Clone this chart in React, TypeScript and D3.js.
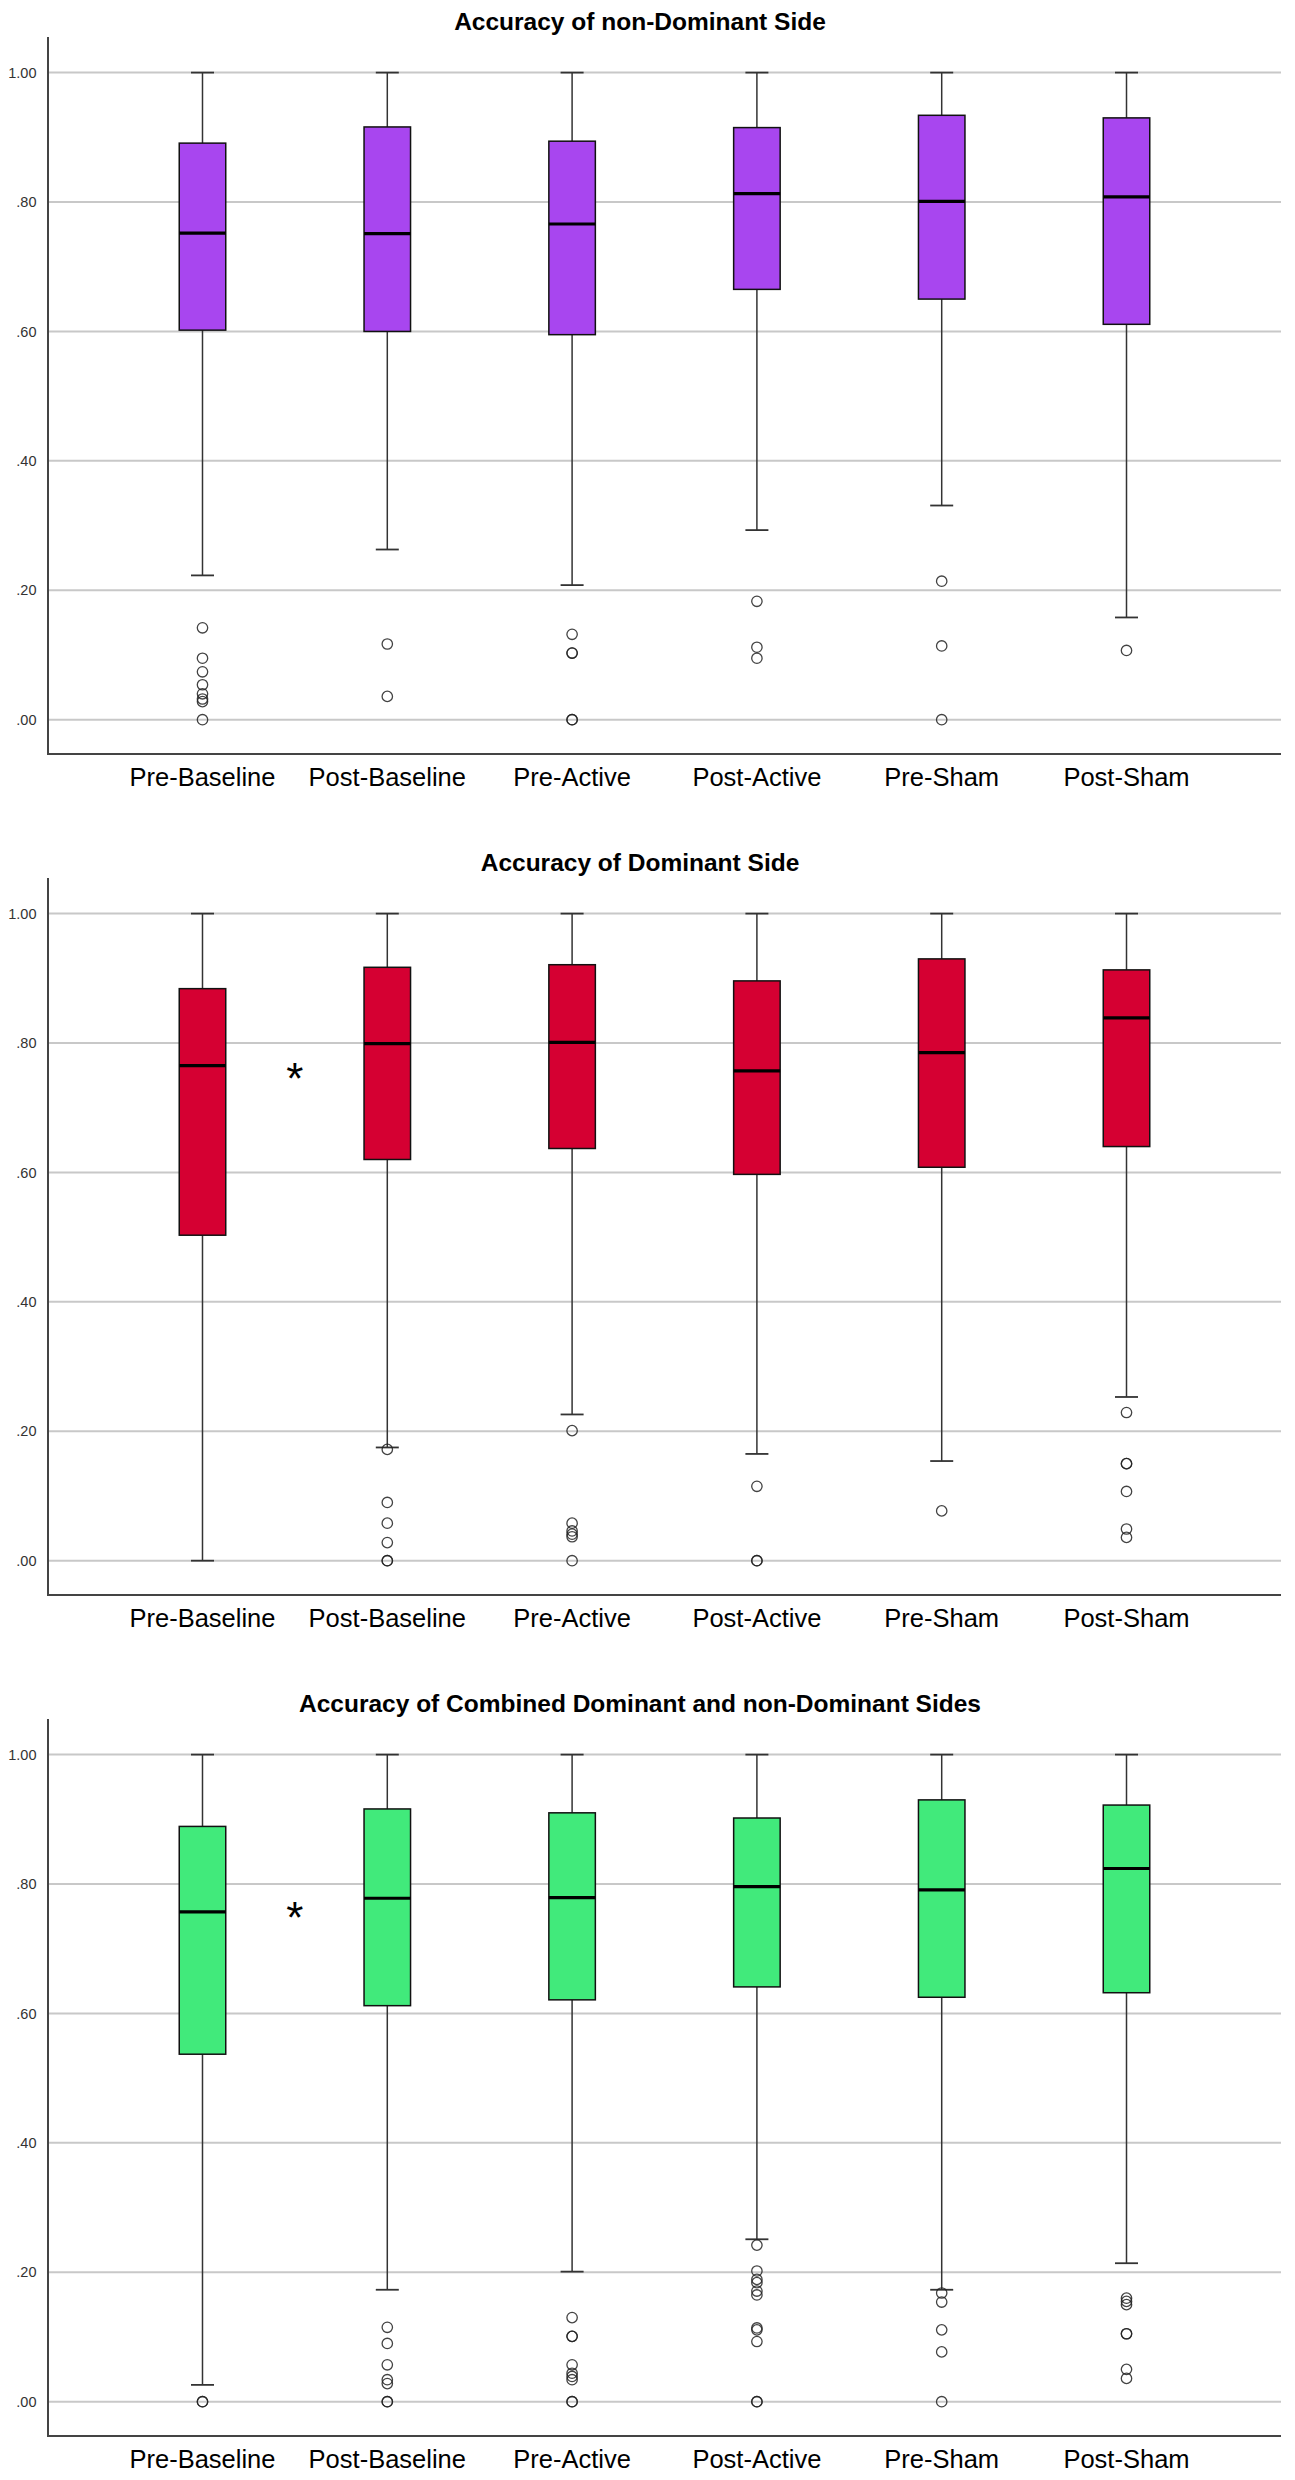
import { useEffect } from "react";
import * as d3 from "d3";

const categories = ["Pre-Baseline", "Post-Baseline", "Pre-Active", "Post-Active", "Pre-Sham", "Post-Sham"];
const yTicks = [0, 0.2, 0.4, 0.6, 0.8, 1.0];

// Accuracy of non-Dominant Side
const nonDomQ1 = [0.602, 0.6, 0.595, 0.665, 0.65, 0.611];
const nonDomMedian = [0.752, 0.751, 0.766, 0.813, 0.801, 0.808];
const nonDomQ3 = [0.891, 0.916, 0.894, 0.915, 0.934, 0.93];
const nonDomLow = [0.223, 0.263, 0.208, 0.293, 0.331, 0.158];
const nonDomHigh = [1, 1, 1, 1, 1, 1];
const nonDomOutliers = [
  [0.142, 0.095, 0.074, 0.054, 0.04, 0.032, 0.028, 0],
  [0.117, 0.036],
  [0.132, 0.103, 0.103, 0, 0],
  [0.183, 0.112, 0.095],
  [0.214, 0.114, 0],
  [0.107],
];

// Accuracy of Dominant Side
const domQ1 = [0.503, 0.62, 0.637, 0.597, 0.608, 0.64];
const domMedian = [0.765, 0.799, 0.801, 0.757, 0.785, 0.839];
const domQ3 = [0.884, 0.917, 0.921, 0.896, 0.93, 0.913];
const domLow = [0, 0.175, 0.226, 0.165, 0.154, 0.253];
const domHigh = [1, 1, 1, 1, 1, 1];
const domOutliers = [
  [],
  [0.172, 0.09, 0.058, 0.028, 0, 0],
  [0.201, 0.058, 0.046, 0.041, 0.037, 0],
  [0.115, 0, 0],
  [0.077],
  [0.229, 0.15, 0.15, 0.107, 0.049, 0.036],
];

// Accuracy of Combined Dominant and non-Dominant Sides
const combQ1 = [0.537, 0.612, 0.621, 0.641, 0.625, 0.632];
const combMedian = [0.757, 0.778, 0.779, 0.796, 0.791, 0.824];
const combQ3 = [0.889, 0.916, 0.91, 0.902, 0.93, 0.922];
const combLow = [0.026, 0.173, 0.201, 0.251, 0.173, 0.214];
const combHigh = [1, 1, 1, 1, 1, 1];
const combOutliers = [
  [0, 0],
  [0.115, 0.09, 0.057, 0.034, 0.028, 0, 0],
  [0.13, 0.101, 0.101, 0.057, 0.044, 0.039, 0.034, 0, 0],
  [0.242, 0.202, 0.189, 0.184, 0.171, 0.165, 0.114, 0.111, 0.093, 0, 0],
  [0.168, 0.154, 0.111, 0.077, 0],
  [0.16, 0.155, 0.15, 0.105, 0.105, 0.05, 0.036],
];

const titles = [
  "Accuracy of non-Dominant Side",
  "Accuracy of Dominant Side",
  "Accuracy of Combined Dominant and non-Dominant Sides",
];
const fills = ["#a846ef", "#d50032", "#41ea7b"];
// significance mark between Pre-Baseline and Post-Baseline (null = none)
const starValue = [null, 0.758, 0.762];

const panels = [
  { q1: nonDomQ1, med: nonDomMedian, q3: nonDomQ3, lo: nonDomLow, hi: nonDomHigh, out: nonDomOutliers },
  { q1: domQ1, med: domMedian, q3: domQ3, lo: domLow, hi: domHigh, out: domOutliers },
  { q1: combQ1, med: combMedian, q3: combQ3, lo: combLow, hi: combHigh, out: combOutliers },
];

const W = 1295;
const H = 2480;
const plotLeft = 48;
const plotRight = 1281;
const firstTop = 37;
const panelStep = 841;
const plotHeight = 717;
const boxW = 46.5;
const capW = 23;
const font = "Arial, 'Liberation Sans', sans-serif";

const fmt = (v: number) => (v === 1 ? "1.00" : d3.format(".2f")(v).replace(/^0/, ""));

function Panel({ index }: { index: number }) {
  const p = panels[index];
  const top = firstTop + index * panelStep;
  const bottom = top + plotHeight;
  const x = d3.scalePoint<string>().domain(categories).range([plotLeft, plotRight]).padding(0.836);
  const y = d3.scaleLinear().domain([-0.053, 1.055]).range([bottom, top]);
  const star = starValue[index];

  return (
    <g>
      <text x={640} y={top - 7.5} textAnchor="middle" fontFamily={font} fontWeight="bold" fontSize={24.5} fill="#000">
        {titles[index]}
      </text>
      {yTicks.map((t) => (
        <g key={t}>
          <line x1={plotLeft} x2={plotRight} y1={y(t)} y2={y(t)} stroke="#c8c8c8" strokeWidth={2} />
          <text x={36.5} y={y(t)} dy="0.35em" textAnchor="end" fontFamily={font} fontSize={14.5} fill="#333">
            {fmt(t)}
          </text>
        </g>
      ))}
      {categories.map((c, i) => {
        const cx = x(c)!;
        return (
          <g key={c}>
            <line x1={cx} x2={cx} y1={y(p.hi[i])} y2={y(p.q3[i])} stroke="#333" strokeWidth={1.5} />
            <line x1={cx} x2={cx} y1={y(p.q1[i])} y2={y(p.lo[i])} stroke="#333" strokeWidth={1.5} />
            <line x1={cx - capW / 2} x2={cx + capW / 2} y1={y(p.hi[i])} y2={y(p.hi[i])} stroke="#333" strokeWidth={1.8} />
            <line x1={cx - capW / 2} x2={cx + capW / 2} y1={y(p.lo[i])} y2={y(p.lo[i])} stroke="#333" strokeWidth={1.8} />
            <rect
              x={cx - boxW / 2}
              y={y(p.q3[i])}
              width={boxW}
              height={y(p.q1[i]) - y(p.q3[i])}
              fill={fills[index]}
              stroke="#111"
              strokeWidth={1.5}
            />
            <line x1={cx - boxW / 2} x2={cx + boxW / 2} y1={y(p.med[i])} y2={y(p.med[i])} stroke="#000" strokeWidth={3.2} />
            {p.out[i].map((v, k) => (
              <circle key={k} cx={cx} cy={y(v)} r={5.2} fill="none" stroke="#222" strokeWidth={1.3} strokeOpacity={0.85} />
            ))}
            <text x={cx} y={bottom + 32} textAnchor="middle" fontFamily={font} fontSize={25.5} fill="#000">
              {c}
            </text>
          </g>
        );
      })}
      {star !== null && (
        <text
          x={(x(categories[0])! + x(categories[1])!) / 2}
          y={y(star) + 24}
          textAnchor="middle"
          fontFamily={font}
          fontSize={44}
          fill="#000"
        >
          *
        </text>
      )}
      <line x1={plotLeft} x2={plotLeft} y1={top} y2={bottom + 1} stroke="#444" strokeWidth={2} />
      <line x1={plotLeft} x2={plotRight} y1={bottom} y2={bottom} stroke="#444" strokeWidth={2} />
    </g>
  );
}

export default function App() {
  useEffect(() => {
    document.body.style.margin = "0";
  }, []);
  return (
    <svg width={W} height={H} viewBox={`0 0 ${W} ${H}`} style={{ display: "block", background: "#fff" }}>
      <rect width={W} height={H} fill="#fff" />
      {titles.map((t, i) => (
        <Panel key={t} index={i} />
      ))}
    </svg>
  );
}
